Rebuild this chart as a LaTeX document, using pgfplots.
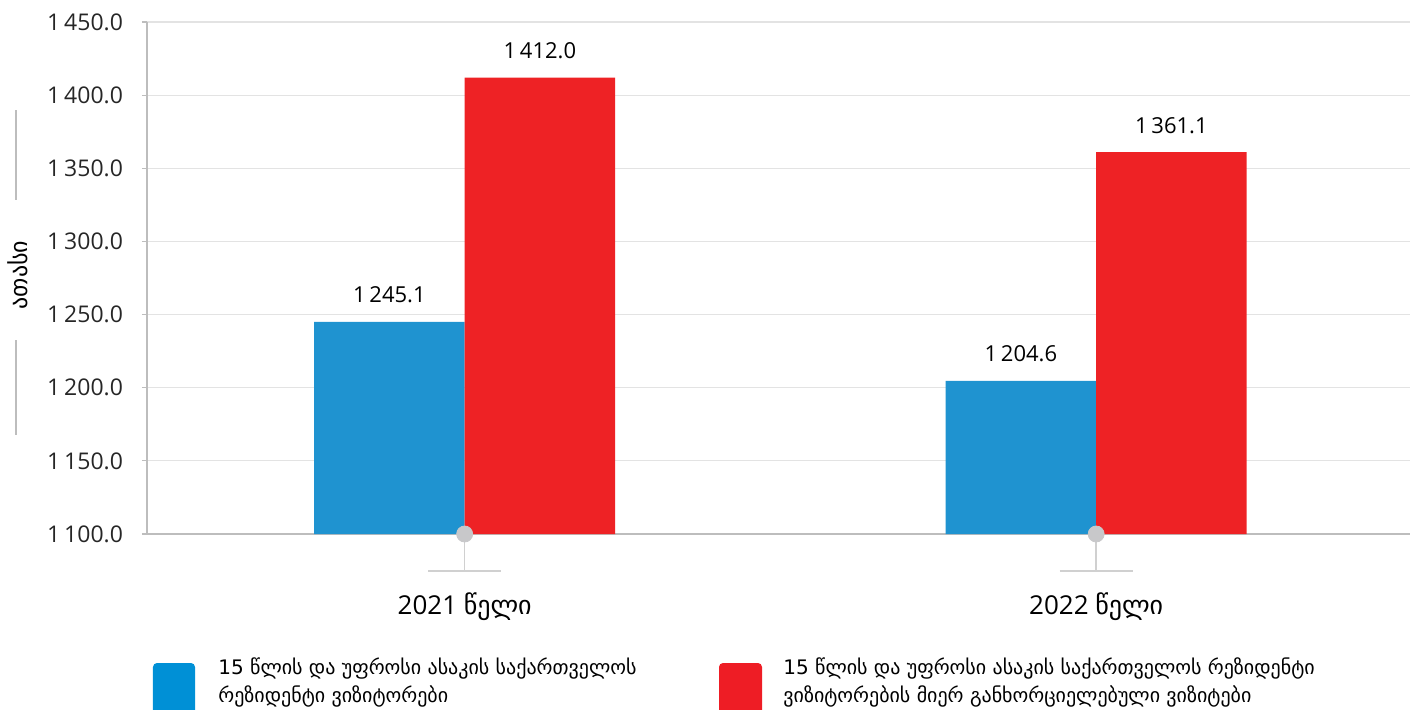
\documentclass[border=0pt]{standalone}
\usepackage{fontspec}
\setmainfont{Open Sans}
\newfontfamily\geo{DejaVu Sans}
\usepackage{pgfplots}
\pgfplotsset{compat=1.18}
\definecolor{barblue}{HTML}{1F93D0}
\definecolor{barred}{HTML}{EE2225}
\definecolor{legblue}{HTML}{0090D6}
\definecolor{legred}{HTML}{EE1D25}
\definecolor{gridgray}{HTML}{E3E3E3}
\definecolor{axisgray}{HTML}{BDBDBD}
\definecolor{stemgray}{HTML}{D0D0D0}
\definecolor{dotgray}{HTML}{C8C8CA}
\begin{document}
\begin{tikzpicture}[x=1pt,y=1pt]
\path[use as bounding box] (-73.5,-87.5) rectangle (635.5,267);
\begin{axis}[
  at={(0,0)}, anchor=south west,
  scale only axis, width=631.5pt, height=256pt,
  xmin=-0.503, xmax=1.497, ymin=1100, ymax=1450,
  ybar=0pt, bar width=75.25pt,
  axis x line*=bottom, axis y line*=left,
  axis line style={axisgray, line width=0.75pt},
  ytick={1100,1150,...,1450},
  xtick={0,1},
  xticklabels={{2021 {\geo წელი}},{2022 {\geo წელი}}},
  x tick style={draw=none},
  tick align=outside, major tick length=2.5pt,
  y tick style={axisgray, line width=0.6pt},
  ymajorgrids, grid style={gridgray, line width=0.6pt},
  y tick label style={/pgf/number format/.cd, fixed, fixed zerofill, precision=1, 1000 sep={\,}, assume math mode=true, /tikz/.cd, font=\fontsize{11.5}{13}\selectfont, text=black!85, xshift=-6pt},
  x tick label style={font=\fontsize{13}{15}\selectfont, anchor=base, yshift=-37.5pt},
  nodes near coords,
  every node near coord/.append style={font=\fontsize{11}{13}\selectfont, anchor=base, yshift=9.5pt, /pgf/number format/.cd, fixed, fixed zerofill, precision=1, 1000 sep={\,}, assume math mode=true},
]
\addplot[fill=barblue, draw=none] coordinates {(0,1245.1) (1,1204.6)};
\addplot[fill=barred, draw=none] coordinates {(0,1412.0) (1,1361.1)};
\end{axis}
\begin{axis}[
  at={(0,0)}, anchor=south west,
  scale only axis, width=631.5pt, height=256pt,
  xmin=-0.503, xmax=1.497, ymin=1100, ymax=1450,
  axis lines=none, clip=false,
]
\draw[stemgray, line width=0.8pt] (axis cs:0,1100) -- ([yshift=-18.5pt]axis cs:0,1100);
\draw[stemgray, line width=0.8pt] ([xshift=-18.25pt,yshift=-18.5pt]axis cs:0,1100) -- ([xshift=18.25pt,yshift=-18.5pt]axis cs:0,1100);
\draw[stemgray, line width=0.8pt] (axis cs:1,1100) -- ([yshift=-18.5pt]axis cs:1,1100);
\draw[stemgray, line width=0.8pt] ([xshift=-18.25pt,yshift=-18.5pt]axis cs:1,1100) -- ([xshift=18.25pt,yshift=-18.5pt]axis cs:1,1100);
\addplot[dotgray, only marks, mark=*, mark size=4pt, mark options={fill=dotgray, draw=dotgray}] coordinates {(0,1100) (1,1100)};
\end{axis}
% y label with decorative lines
\node[rotate=90, font=\geo\fontsize{12}{14}\selectfont] at (-64.5,129.5) {ათასი};
\draw[axisgray, line width=0.6pt] (-65.5,212) -- (-65.5,167);
\draw[axisgray, line width=0.6pt] (-65.5,97) -- (-65.5,49.5);
% legend
\fill[legblue, rounded corners=2pt] (3,-64.5) rectangle (24,-100);
\node[anchor=base west, align=left, inner sep=0pt, font=\geo\fontsize{10}{14}\selectfont] at (35.5,-84.4) {15 წლის და უფროსი ასაკის საქართველოს\\რეზიდენტი ვიზიტორები};
\fill[legred, rounded corners=2pt] (286,-64.5) rectangle (307.5,-100);
\node[anchor=base west, align=left, inner sep=0pt, font=\geo\fontsize{10}{14}\selectfont] at (318,-84.4) {15 წლის და უფროსი ასაკის საქართველოს რეზიდენტი\\ვიზიტორების მიერ განხორციელებული ვიზიტები};
\end{tikzpicture}
\end{document}
